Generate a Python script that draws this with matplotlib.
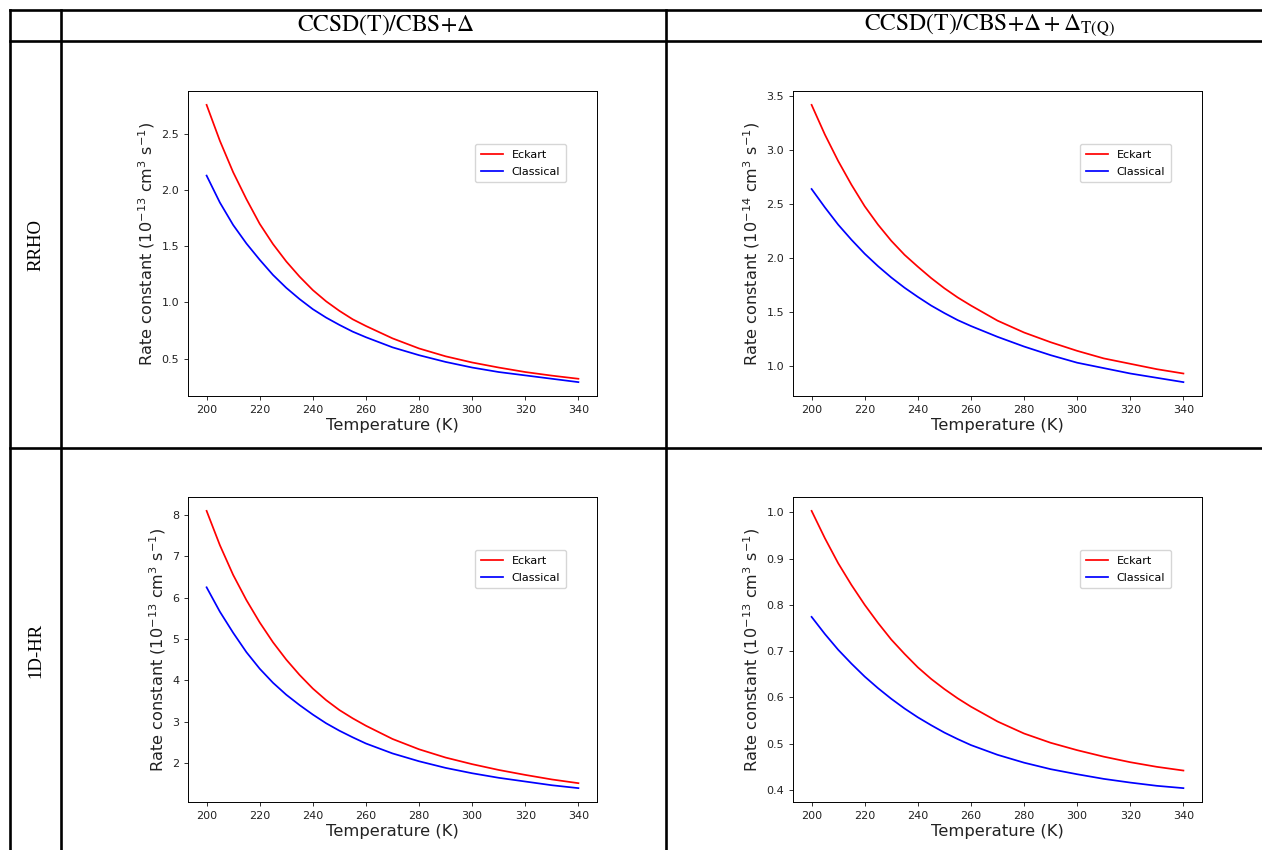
import matplotlib
matplotlib.use("Agg")
import matplotlib.pyplot as plt
from matplotlib.lines import Line2D

# ---------------- data ----------------
temperature = [200, 205, 210, 215, 220, 225, 230, 235, 240, 245, 250, 255, 260,
               270, 280, 290, 300, 310, 320, 330, 340]

# RRHO, CCSD(T)/CBS+Δ  (10^-13)
rrho_a_eckart    = [2.76, 2.44, 2.16, 1.92, 1.70, 1.52, 1.365, 1.23, 1.11, 1.01, 0.925, 0.85, 0.79,
                    0.68, 0.59, 0.52, 0.465, 0.42, 0.38, 0.348, 0.32]
rrho_a_classical = [2.13, 1.89, 1.69, 1.525, 1.38, 1.245, 1.13, 1.03, 0.94, 0.865, 0.80, 0.74, 0.69,
                    0.60, 0.53, 0.47, 0.42, 0.38, 0.35, 0.32, 0.29]
# RRHO, CCSD(T)/CBS+Δ+Δ_T(Q)  (10^-14)
rrho_b_eckart    = [3.42, 3.145, 2.90, 2.68, 2.48, 2.31, 2.16, 2.03, 1.92, 1.815, 1.72, 1.635, 1.56,
                    1.42, 1.31, 1.22, 1.14, 1.07, 1.02, 0.97, 0.93]
rrho_b_classical = [2.64, 2.47, 2.31, 2.17, 2.04, 1.925, 1.82, 1.725, 1.64, 1.56, 1.49, 1.425, 1.37,
                    1.27, 1.18, 1.10, 1.03, 0.98, 0.93, 0.89, 0.85]
# 1D-HR, CCSD(T)/CBS+Δ  (10^-13)
hr_a_eckart      = [8.10, 7.27, 6.55, 5.94, 5.40, 4.92, 4.50, 4.13, 3.80, 3.52, 3.28, 3.08, 2.90,
                    2.58, 2.33, 2.13, 1.97, 1.83, 1.71, 1.60, 1.51]
hr_a_classical   = [6.25, 5.66, 5.15, 4.68, 4.28, 3.94, 3.65, 3.40, 3.17, 2.96, 2.78, 2.62, 2.47,
                    2.23, 2.04, 1.88, 1.75, 1.64, 1.55, 1.46, 1.39]
# 1D-HR, CCSD(T)/CBS+Δ+Δ_T(Q)  (10^-13)
hr_b_eckart      = [1.003, 0.944, 0.89, 0.843, 0.80, 0.761, 0.725, 0.694, 0.665, 0.640, 0.618, 0.598, 0.580,
                    0.548, 0.522, 0.502, 0.486, 0.472, 0.460, 0.450, 0.442]
hr_b_classical   = [0.774, 0.737, 0.703, 0.673, 0.645, 0.620, 0.597, 0.576, 0.557, 0.540, 0.524, 0.510, 0.497,
                    0.476, 0.459, 0.445, 0.434, 0.424, 0.416, 0.409, 0.404]

col_headers = [r"$\mathrm{CCSD(T)/CBS}{+}\Delta$",
               r"$\mathrm{CCSD(T)/CBS}{+}\Delta+\Delta_{\mathrm{T(Q)}}$"]
row_headers = ["RRHO", "1D-HR"]
exponents = [["-13", "-14"], ["-13", "-13"]]
series_names = ["Eckart", "Classical"]
xticks = [200, 220, 240, 260, 280, 300, 320, 340]

panels = [[(rrho_a_eckart, rrho_a_classical), (rrho_b_eckart, rrho_b_classical)],
          [(hr_a_eckart, hr_a_classical), (hr_b_eckart, hr_b_classical)]]

# ---------------- figure ----------------
W, H = 1262, 850
plt.rcParams['mathtext.fontset'] = 'stix'
fig = plt.figure(figsize=(W / 100, H / 100), dpi=100)
fig.patch.set_facecolor('white')

def fx(x):
    return x / W

def fy(y):
    return 1 - y / H

# table lines
lw_tab = 1.9
for x in [10, 61, 666]:
    fig.add_artist(Line2D([fx(x), fx(x)], [fy(10), fy(850)], color='black', lw=lw_tab,
                          transform=fig.transFigure))
for y in [10, 41, 448]:
    fig.add_artist(Line2D([fx(10), fx(1262)], [fy(y), fy(y)], color='black', lw=lw_tab,
                          transform=fig.transFigure))

# headers
fig.text(fx(386), fy(25), col_headers[0], fontsize=17, ha='center', va='center')
fig.text(fx(990), fy(25), col_headers[1], fontsize=17, ha='center', va='center')
fig.text(fx(36), fy(245), row_headers[0], fontsize=13.5, rotation=90, ha='center', va='center',
         family='Liberation Serif')
fig.text(fx(36), fy(650), row_headers[1], fontsize=13.5, rotation=90, ha='center', va='center',
         family='Liberation Serif')

ax_lefts = [188, 793]
ax_tops = [91, 497]
ax_w, ax_h = 409, 305

for r in range(2):
    for c in range(2):
        left = ax_lefts[c]
        top = ax_tops[r]
        ax = fig.add_axes([fx(left), fy(top + ax_h), ax_w / W, ax_h / H])
        ek, cl = panels[r][c]
        ax.plot(temperature, ek, color='red', lw=1.25, label=series_names[0])
        ax.plot(temperature, cl, color='blue', lw=1.25, label=series_names[1])
        ax.set_xticks(xticks)
        ax.tick_params(labelsize=8, length=2.9, width=0.65, colors='#222222')
        for s in ax.spines.values():
            s.set_linewidth(0.7)
        ax.set_xlabel("Temperature (K)", fontsize=11.8, labelpad=2.5, color='#222222')
        ax.set_ylabel(r"Rate constant ($10^{%s}$ cm$^3$ s$^{-1}$)" % exponents[r][c],
                      fontsize=11.6, labelpad=3, color='#222222')
        ax.yaxis.label.set_math_fontfamily('dejavusans')
        ax.legend(loc='upper right', bbox_to_anchor=(0.924, 0.826), borderaxespad=0,
                  fontsize=8, handlelength=2.0, borderpad=0.5, labelspacing=0.65)

fig.savefig("out.png", dpi=100, facecolor='white')
